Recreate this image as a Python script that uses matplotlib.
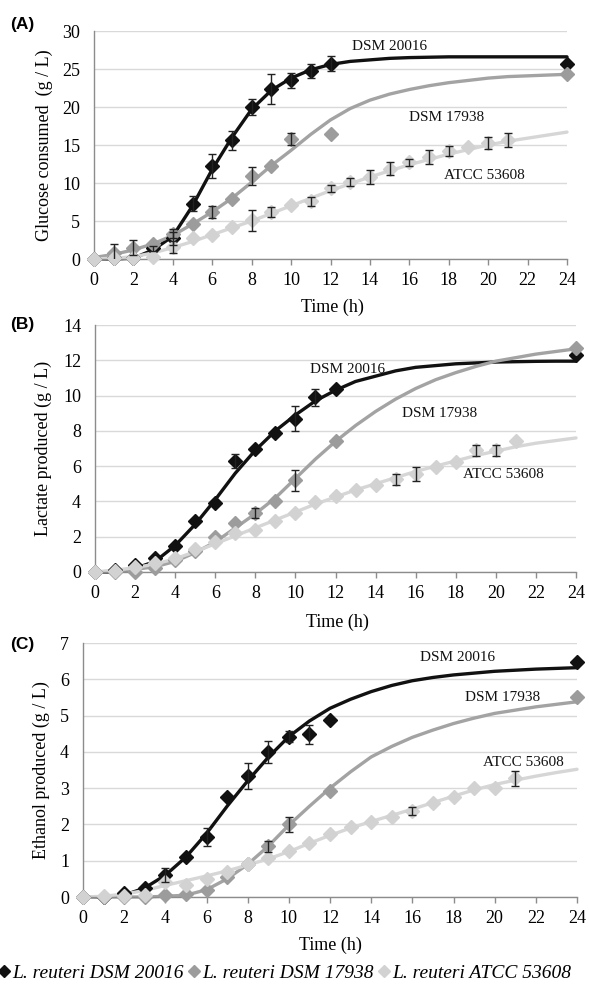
import matplotlib
matplotlib.use("Agg")
import matplotlib.pyplot as plt
from matplotlib.lines import Line2D
import numpy as np

# ---------------- data ----------------
curve_hours = list(range(0, 25))

# Panel A: glucose consumed
A_black_x = [0, 1, 2, 3, 4, 5, 6, 7, 8, 9, 10, 11, 12, 24]
A_black_y = [0, 0.1, 0.1, 1.4, 2.7, 7.3, 12.2, 15.6, 20.0, 22.4, 23.5, 24.7, 25.7, 25.7]
A_black_e = [0, 0, 0, 0.3, 0.8, 1.0, 1.6, 1.2, 1.0, 2.0, 1.0, 0.9, 1.0, 0]
A_gray_x = [0, 1, 2, 3, 4, 5, 6, 7, 8, 9, 10, 12, 24]
A_gray_y = [0, 0.8, 1.5, 2.0, 3.3, 4.6, 6.2, 7.9, 10.9, 12.3, 15.8, 16.5, 24.3]
A_gray_e = [0, 1.2, 1.0, 0, 0.6, 0, 0.8, 0, 1.2, 0, 0.8, 0, 0]
A_light_x = list(range(0, 22))
A_light_y = [0, 0.1, 0.1, 0.3, 1.6, 2.7, 3.2, 4.2, 5.1, 6.2, 7.1, 7.6, 9.3, 10.1,
             10.8, 11.9, 12.7, 13.4, 14.2, 14.7, 15.3, 15.7]
A_light_e = [0, 0, 0, 0, 0.8, 0, 0, 0, 1.4, 0.7, 0, 0.6, 0.5, 0.5,
             0.9, 0.8, 0.5, 0.9, 0.7, 0, 0.8, 0.9]
A_black_fit = [0, 0, 0.1, 1.2, 3.0, 7.0, 11.8, 16.0, 19.7, 22.2, 23.8, 24.9, 25.6,
               26.0, 26.2, 26.4, 26.5, 26.55, 26.6, 26.6, 26.6, 26.6, 26.6, 26.6, 26.6]
A_gray_fit = [0.2, 0.6, 1.2, 2.0, 3.1, 4.6, 6.2, 8.0, 10.1, 12.3, 14.3, 16.4, 18.3,
              19.8, 20.9, 21.7, 22.3, 22.8, 23.2, 23.5, 23.8, 24.0, 24.1, 24.2, 24.3]
A_light_fit = [0, 0.1, 0.3, 0.8, 1.5, 2.3, 3.2, 4.1, 5.0, 6.0, 7.0, 8.0, 9.0, 9.9,
               10.8, 11.6, 12.4, 13.1, 13.8, 14.4, 15.0, 15.5, 15.9, 16.3, 16.7]

# Panel B: lactate produced
B_black_x = [0, 1, 2, 3, 4, 5, 6, 7, 8, 9, 10, 11, 12, 24]
B_black_y = [0, 0.1, 0.4, 0.8, 1.5, 2.9, 3.9, 6.3, 6.95, 7.9, 8.7, 9.9, 10.4, 12.3]
B_black_e = [0, 0, 0, 0, 0, 0, 0, 0.4, 0, 0, 0.7, 0.5, 0, 0]
B_gray_x = [0, 1, 2, 3, 4, 5, 6, 7, 8, 9, 10, 12, 24]
B_gray_y = [0, 0, 0, 0.2, 0.7, 1.2, 2.0, 2.8, 3.35, 4.0, 5.2, 7.45, 12.7]
B_gray_e = [0, 0, 0, 0, 0, 0, 0, 0, 0.3, 0, 0.6, 0, 0]
B_light_x = list(range(0, 22))
B_light_y = [0, 0.05, 0.3, 0.5, 0.8, 1.3, 1.7, 2.2, 2.4, 2.9, 3.35, 3.95, 4.3, 4.65,
             4.95, 5.25, 5.55, 5.95, 6.25, 6.9, 6.9, 7.4]
B_light_e = [0, 0, 0, 0, 0, 0, 0, 0, 0, 0, 0, 0, 0, 0,
             0, 0.3, 0.4, 0, 0, 0.3, 0.3, 0]
B_black_fit = [0, 0, 0.2, 0.6, 1.5, 2.7, 4.1, 5.6, 6.9, 8.0, 8.9, 9.7, 10.3, 10.8,
               11.1, 11.4, 11.6, 11.7, 11.8, 11.85, 11.9, 11.92, 11.94, 11.95, 11.95]
B_gray_fit = [0, 0.05, 0.15, 0.3, 0.6, 1.1, 1.7, 2.5, 3.3, 4.2, 5.3, 6.4, 7.4, 8.3,
              9.1, 9.8, 10.4, 10.9, 11.3, 11.65, 11.95, 12.15, 12.35, 12.5, 12.65]
B_light_fit = [0, 0.1, 0.25, 0.45, 0.75, 1.15, 1.6, 2.05, 2.5, 2.95, 3.4, 3.85, 4.25,
               4.65, 5.0, 5.35, 5.7, 6.0, 6.3, 6.6, 6.85, 7.1, 7.3, 7.45, 7.6]

# Panel C: ethanol produced
C_black_x = [0, 1, 2, 3, 4, 5, 6, 7, 8, 9, 10, 11, 12, 24]
C_black_y = [0, 0, 0.1, 0.24, 0.6, 1.1, 1.65, 2.75, 3.33, 4.0, 4.42, 4.48, 4.88, 6.48]
C_black_e = [0, 0, 0, 0, 0.2, 0, 0.25, 0, 0.35, 0.3, 0.15, 0.25, 0, 0]
C_gray_x = [0, 1, 2, 3, 4, 5, 6, 7, 8, 9, 10, 12, 24]
C_gray_y = [0, 0, 0, 0, 0.05, 0.07, 0.2, 0.55, 0.92, 1.4, 2.0, 2.92, 5.52]
C_gray_e = [0, 0, 0, 0, 0, 0, 0, 0, 0, 0.15, 0.2, 0, 0]
C_light_x = list(range(0, 22))
C_light_y = [0, 0.02, 0.02, 0.05, 0.42, 0.33, 0.5, 0.7, 0.91, 1.08, 1.26, 1.5, 1.73,
             1.92, 2.07, 2.21, 2.37, 2.58, 2.76, 3.0, 3.0, 3.27]
C_light_e = [0, 0, 0, 0, 0, 0, 0, 0, 0, 0, 0, 0, 0, 0,
             0, 0, 0.1, 0, 0, 0, 0, 0.2]
C_black_fit = [0, 0, 0.05, 0.25, 0.6, 1.1, 1.75, 2.5, 3.2, 3.85, 4.42, 4.85, 5.2, 5.45,
               5.66, 5.83, 5.96, 6.05, 6.12, 6.17, 6.22, 6.25, 6.28, 6.3, 6.32]
C_gray_fit = [0, 0, 0, 0, 0.02, 0.05, 0.2, 0.5, 0.9, 1.4, 1.98, 2.5, 3.0, 3.45,
              3.86, 4.15, 4.4, 4.6, 4.78, 4.93, 5.06, 5.15, 5.24, 5.31, 5.38]
C_light_fit = [0, 0.02, 0.08, 0.18, 0.32, 0.45, 0.58, 0.72, 0.88, 1.05, 1.25, 1.48,
               1.7, 1.9, 2.08, 2.25, 2.42, 2.6, 2.78, 2.95, 3.1, 3.22, 3.33, 3.43, 3.52]

panel_letters = ["(A)", "(B)", "(C)"]
y_labels = ["Glucose consumed  (g / L)", "Lactate produced (g / L)", "Ethanol produced (g / L)"]
y_limits = [(0, 30), (0, 14), (0, 7)]
y_steps = [5, 2, 1]
x_label = "Time (h)"
strain_short = ["DSM 20016", "DSM 17938", "ATCC 53608"]
legend_labels = ["L. reuteri DSM 20016", "L. reuteri DSM 17938", "L. reuteri ATCC 53608"]

# ---------------- style ----------------
SERIF = ["Liberation Serif", "DejaVu Serif"]
SANS = ["Liberation Sans", "DejaVu Sans"]
col_line = ["#111111", "#a3a3a3", "#d6d6d6"]
col_mark = ["#111111", "#9c9c9c", "#d2d2d2"]
grid_col = "#d9d9d9"
spine_col = "#8c8c8c"

fig = plt.figure(figsize=(5.89, 9.92), dpi=100)
W, H = 589.0, 992.0

def frac_rect(x0, x1, ytop, ybot):
    return [x0 / W, 1 - ybot / H, (x1 - x0) / W, (ybot - ytop) / H]

rects = [frac_rect(94, 567, 31, 259), frac_rect(95, 576, 325, 572), frac_rect(83, 577, 643, 897)]

panels = [
    (A_black_x, A_black_y, A_black_e, A_gray_x, A_gray_y, A_gray_e, A_light_x, A_light_y, A_light_e,
     A_black_fit, A_gray_fit, A_light_fit),
    (B_black_x, B_black_y, B_black_e, B_gray_x, B_gray_y, B_gray_e, B_light_x, B_light_y, B_light_e,
     B_black_fit, B_gray_fit, B_light_fit),
    (C_black_x, C_black_y, C_black_e, C_gray_x, C_gray_y, C_gray_e, C_light_x, C_light_y, C_light_e,
     C_black_fit, C_gray_fit, C_light_fit),
]

label_pos = [
    [(15.0, 28.0), (17.9, 18.6), (19.8, 11.0)],
    [(12.6, 11.5), (17.2, 9.0), (20.4, 5.5)],
    [(18.2, 6.6), (20.4, 5.5), (21.4, 3.7)],
]
panel_letter_y = [25, 325, 645]
xlabel_xy = [(332, 307), (337, 622), (330, 945)]
ylabel_x = [53, 52, 50]

for i, (rect, data) in enumerate(zip(rects, panels)):
    ax = fig.add_axes(rect)
    (bx, by, be, gx, gy, ge, lx, ly, le, bf, gf, lf) = data
    ymin, ymax = y_limits[i]
    ax.set_xlim(0, 24)
    ax.set_ylim(ymin, ymax)
    ax.set_xticks(np.arange(0, 25, 2))
    ax.set_yticks(np.arange(ymin, ymax + 0.001, y_steps[i]))
    for s in ["top", "right"]:
        ax.spines[s].set_visible(False)
    for s in ["left", "bottom"]:
        ax.spines[s].set_color(spine_col)
        ax.spines[s].set_linewidth(1.0)
    ax.yaxis.grid(True, color=grid_col, linewidth=1.0)
    ax.set_axisbelow(True)
    ax.tick_params(axis="x", direction="out", length=4.5, color=spine_col, width=1.0, pad=5)
    ax.tick_params(axis="y", length=0, pad=10)
    for lab in ax.get_xticklabels() + ax.get_yticklabels():
        lab.set_fontfamily(SERIF)
        lab.set_fontsize(13)
    series = [(bx, by, be, bf), (gx, gy, ge, gf), (lx, ly, le, lf)]
    for k, (sx, sy, se, sf) in enumerate(series):
        ax.plot(curve_hours, sf, color=col_line[k], lw=2.4, zorder=2 + k * 0.1,
                solid_capstyle="round", clip_on=False)
    for k, (sx, sy, se, sf) in enumerate(series):
        ax.plot(sx, sy, ls="none", marker="D", ms=7, color=col_mark[k],
                mec=col_mark[k], zorder=4 + k, clip_on=False)
        ex = [x for x, e in zip(sx, se) if e > 0]
        ey = [y for y, e in zip(sy, se) if e > 0]
        ee = [e for e in se if e > 0]
        if ex:
            ax.errorbar(ex, ey, yerr=ee, fmt="none", ecolor="#222222", elinewidth=1.0,
                        capsize=3, capthick=1.0, zorder=7)
    for k in range(3):
        ax.text(label_pos[i][k][0], label_pos[i][k][1], strain_short[k], fontfamily=SERIF,
                fontsize=11, ha="center", va="center", color="#111111", zorder=8)
    ax.set_ylabel(y_labels[i], fontfamily=SERIF, fontsize=13)
    ax.yaxis.set_label_coords((ylabel_x[i] - rect[0] * W) / (rect[2] * W), 0.5)
    fig.text(xlabel_xy[i][0] / W, 1 - xlabel_xy[i][1] / H, x_label,
             fontfamily=SERIF, fontsize=13, ha="center", va="center")
    fig.text(10 / W, 1 - panel_letter_y[i] / H, panel_letters[i], fontfamily=SANS,
             fontweight="bold", fontsize=12.5, ha="left", va="center")

handles = [Line2D([], [], ls="none", marker="D", ms=6, color=c) for c in col_mark]
fig.legend(handles, legend_labels, loc="center left", bbox_to_anchor=(-0.002, 1 - 973 / H),
           ncol=3, frameon=False, handlelength=0.55, handletextpad=0.15, columnspacing=0.25,
           borderaxespad=0, borderpad=0,
           prop={"family": SERIF, "style": "italic", "size": 14})

fig.savefig("out.png", dpi=100)
